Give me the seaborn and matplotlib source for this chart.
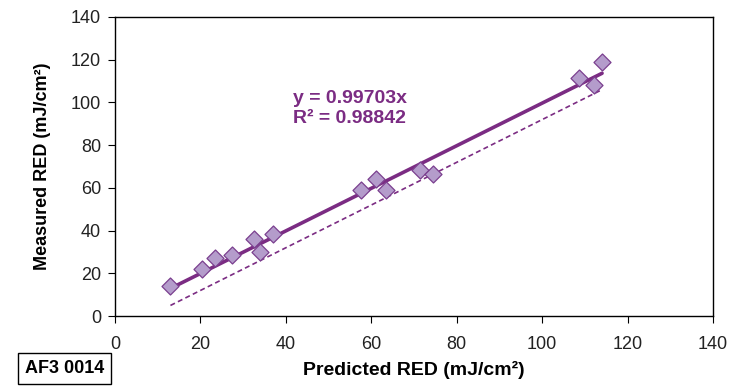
import matplotlib
matplotlib.use("Agg")
import matplotlib.pyplot as plt
import seaborn as sns
import numpy as np
import pandas as pd

predicted = [13, 20.5, 23.5, 27.5, 32.5, 34, 37, 57.5, 61, 63.5, 71.5, 74.5, 108.5, 112, 114]
measured = [14, 22, 27, 28.5, 36, 30, 38.5, 59, 64, 59, 68.5, 66.5, 111.5, 108, 119]
slope = 0.99703
offset_line_shift = -8
x_ticks = [0, 20, 40, 60, 80, 100, 120, 140]
y_ticks = [0, 20, 40, 60, 80, 100, 120, 140]

sns.set_theme(style="white")
plt.rcParams['font.family'] = ['Liberation Sans', 'DejaVu Sans']
plt.rcParams['text.color'] = 'black'
plt.rcParams['axes.labelcolor'] = 'black'

fig = plt.figure(figsize=(7.46, 3.86), dpi=100)
ax = fig.add_axes([0.154, 0.181, 0.802, 0.775])

df = pd.DataFrame({"Predicted": predicted, "Measured": measured})
xfit = np.array([min(predicted), max(predicted)])
fit_df = pd.DataFrame({"x": xfit, "y": slope * xfit})
dash_df = pd.DataFrame({"x": xfit, "y": xfit + offset_line_shift})

line_color = "#7B2C83"
sns.lineplot(data=fit_df, x="x", y="y", ax=ax, color=line_color, lw=2.6, zorder=2)
sns.lineplot(data=dash_df, x="x", y="y", ax=ax, color=line_color, lw=1.2, ls=(0, (3, 2)), zorder=2)
sns.scatterplot(data=df, x="Predicted", y="Measured", ax=ax, marker="D", s=75,
                color="#B49CCB", edgecolor="#7B3F8F", linewidth=0.9, zorder=3)

ax.set_xlim(0, 140)
ax.set_ylim(0, 140)
ax.set_xticks(x_ticks)
ax.set_yticks(y_ticks)
ax.tick_params(axis="both", direction="out", length=5, width=0.8, labelsize=13,
               bottom=True, left=True, colors="black", labelcolor="#222222")
ax.tick_params(axis="x", pad=9)
ax.tick_params(axis="y", pad=5)
for s in ax.spines.values():
    s.set_color("black")
    s.set_linewidth(1.0)

ax.set_xlabel("Predicted RED (mJ/cm²)", fontsize=14, fontweight="bold", labelpad=6)
ax.set_ylabel("Measured RED (mJ/cm²)", fontsize=13, fontweight="bold", labelpad=14)

ax.text(0.298, 0.695, "y = 0.99703x\nR² = 0.98842", transform=ax.transAxes,
        fontsize=14, fontweight="bold", color=line_color, va="center", ha="left",
        linespacing=1.2)

fig.text(0.087, 0.046, "AF3 0014", fontsize=13, fontweight="bold", ha="center", va="center",
         bbox=dict(boxstyle="square,pad=0.38", fc="white", ec="black", lw=1.0))

fig.savefig("out.png", dpi=100)
